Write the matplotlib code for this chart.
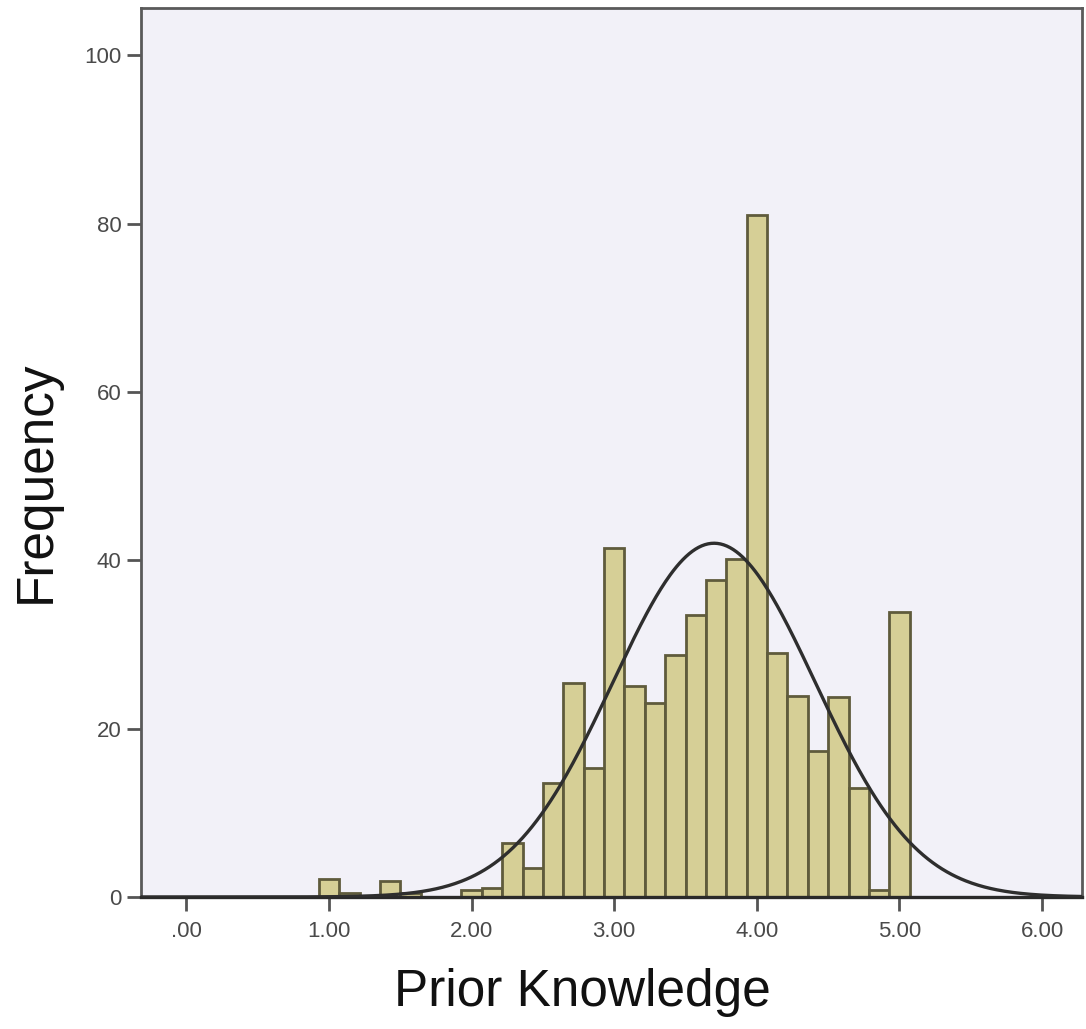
import numpy as np
import matplotlib
matplotlib.use('Agg')
from matplotlib import pyplot as plt

# histogram of Prior Knowledge, bins of width 1/7 starting at 1.00
bin_start = 1.0
bin_width = 1.0 / 7.0
counts = [2.1, 0.5, 0, 1.9, 0.5, 0, 0, 0.8, 1.1, 6.4,
          3.4, 13.5, 25.4, 15.3, 41.5, 25.1, 23.1, 28.8, 33.5, 37.7,
          40.2, 81.0, 29.0, 23.9, 17.4, 23.8, 13.0, 0.8, 33.8]

# normal curve parameters
curve_mean = 3.70
curve_sd = 0.71

x_ticks = [0, 1, 2, 3, 4, 5, 6]
x_tick_labels = ['.00', '1.00', '2.00', '3.00', '4.00', '5.00', '6.00']
y_ticks = [0, 20, 40, 60, 80, 100]

plt.rcParams['font.family'] = ['Liberation Sans', 'DejaVu Sans']

fig = plt.figure(figsize=(10.86, 10.29), dpi=100)
ax = fig.add_axes([0.1296, 0.1283, 0.8667, 0.8639])
ax.set_facecolor('#f2f1f8')

counts = np.array(counts)
centers = bin_start + np.arange(len(counts)) * bin_width
keep = counts > 0
ax.bar(centers[keep], counts[keep], width=bin_width, color='#d6cf96',
       edgecolor='#5f5b3c', linewidth=2.0, zorder=2)

n_total = counts.sum()
xs = np.linspace(-0.32, 6.28, 600)
ys = n_total * bin_width * np.exp(-0.5 * ((xs - curve_mean) / curve_sd) ** 2) / (curve_sd * np.sqrt(2 * np.pi))
ax.plot(xs, ys, color='#2e2e2e', linewidth=2.4, zorder=3)

ax.set_xlim(-0.32, 6.28)
ax.set_ylim(0, 105.6)
ax.set_xticks(x_ticks)
ax.set_xticklabels(x_tick_labels)
ax.set_yticks(y_ticks)

for side in ['left', 'top', 'right']:
    ax.spines[side].set_color('#5a5a5a')
    ax.spines[side].set_linewidth(2.0)
ax.spines['bottom'].set_color('#2a2a2a')
ax.spines['bottom'].set_linewidth(2.4)

ax.tick_params(axis='both', direction='out', length=10, width=2.0,
               color='#555555', labelcolor='#4a4a4a', labelsize=16)
ax.tick_params(axis='x', pad=7)
ax.tick_params(axis='y', pad=4)

ax.set_xlabel('Prior Knowledge', fontsize=37, color='#111111')
ax.xaxis.set_label_coords(0.469, -0.080)
ax.set_ylabel('Frequency', fontsize=37, color='#111111')
ax.yaxis.set_label_coords(-0.0847, 0.467)

fig.savefig('out.png', dpi=100)
